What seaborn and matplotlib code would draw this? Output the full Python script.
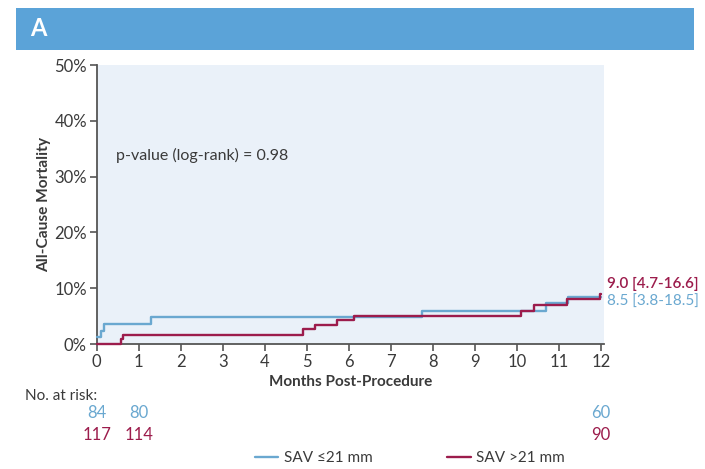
import matplotlib
matplotlib.use("Agg")
import matplotlib.pyplot as plt
from matplotlib.patches import Rectangle
from matplotlib.lines import Line2D
from matplotlib.transforms import blended_transform_factory
import numpy as np
import pandas as pd
import seaborn as sns

# Kaplan-Meier cumulative mortality (%) by annulus size group
small_label = "SAV ≤21 mm"
large_label = "SAV >21 mm"
small_months = [0, 0.11, 0.17, 1.29, 7.73, 10.7, 11.22, 12.0]
small_mortality = [1.2, 2.4, 3.6, 4.8, 6.0, 7.3, 8.5, 8.5]
large_months = [0, 0.59, 0.63, 4.91, 5.19, 5.71, 6.12, 10.1, 10.4, 11.2, 11.97, 12.0]
large_mortality = [0, 0.9, 1.7, 2.6, 3.4, 4.3, 5.1, 6.0, 7.0, 8.0, 9.0, 9.0]

small_estimate = "8.5 [3.8-18.5]"
large_estimate = "9.0 [4.7-16.6]"
p_text = "p-value (log-rank) = 0.98"

risk_months = [0, 1, 12]
small_at_risk = [84, 80, 60]
large_at_risk = [117, 114, 90]

x_ticks = list(range(0, 13))
y_ticks = [0, 10, 20, 30, 40, 50]

BLUE = "#6aa8d0"
RED = "#9c1c4c"
TEXT = "#3a3a3a"

sns.set_style("ticks")
plt.rcParams["font.family"] = ["Lato", "DejaVu Sans"]

df = pd.concat([
    pd.DataFrame({"month": small_months, "mortality": small_mortality, "group": small_label}),
    pd.DataFrame({"month": large_months, "mortality": large_mortality, "group": large_label}),
])

fig = plt.figure(figsize=(7.05, 4.69), dpi=100)
ax = fig.add_axes([96.7 / 705, (469 - 344) / 469, (604 - 96.7) / 705, (344 - 65) / 469])
ax.set_facecolor("#eaf1f9")

sns.lineplot(data=df, x="month", y="mortality", hue="group",
             palette={small_label: BLUE, large_label: RED},
             hue_order=[small_label, large_label],
             drawstyle="steps-post", linewidth=1.7, ax=ax, legend=False,
             estimator=None, sort=False)
for line in ax.lines:
    line.set_zorder(3)
    line.set_clip_on(False)

ax.set_xlim(0, 12.07)
ax.set_ylim(0, 50)
ax.set_xticks(x_ticks)
ax.set_yticks(y_ticks)
ax.set_yticklabels([f"{v}%" for v in y_ticks])
ax.tick_params(axis="both", labelsize=12, colors="#555555", labelcolor=TEXT,
               length=5, width=1.2, pad=2)
for side in ("top", "right"):
    ax.spines[side].set_visible(False)
for side in ("left", "bottom"):
    ax.spines[side].set_color("#555555")
    ax.spines[side].set_linewidth(1.3)
    ax.spines[side].set_zorder(2)

ax.set_xlabel("Months Post-Procedure", fontsize=11, fontweight="bold", color=TEXT, labelpad=4)
ax.set_ylabel("All-Cause Mortality", fontsize=11.2, fontweight="bold", color=TEXT, labelpad=2)

ax.text(0.45, 33.8, p_text, fontsize=11.5, color=TEXT, va="center", ha="left")

# Estimates at 12 months beside the curves
ax.text(12.15, 10.75, large_estimate, fontsize=11, color=RED, va="center", ha="left",
        fontweight="semibold", clip_on=False)
ax.text(12.15, 7.5, small_estimate, fontsize=11, color=BLUE, va="center", ha="left",
        clip_on=False)

# Header band
fig.patches.append(Rectangle((16 / 705, (469 - 50) / 469), 678 / 705, 42 / 469,
                             transform=fig.transFigure, facecolor="#5ba3d8",
                             edgecolor="none", zorder=0))
fig.text(30 / 705, (469 - 29) / 469, "A", color="white", fontsize=17,
         fontweight="bold", va="center", ha="left")

# Number at risk table
trans = blended_transform_factory(ax.transData, fig.transFigure)
fig.text(25 / 705, (469 - 396) / 469, "No. at risk:", fontsize=11, color=TEXT,
         va="center", ha="left")
for m, n in zip(risk_months, small_at_risk):
    ax.text(m, (469 - 413) / 469, str(n), transform=trans, fontsize=12,
            color=BLUE, ha="center", va="center", clip_on=False)
for m, n in zip(risk_months, large_at_risk):
    ax.text(m, (469 - 435) / 469, str(n), transform=trans, fontsize=12,
            color=RED, ha="center", va="center", clip_on=False)

handles = [Line2D([], [], color=BLUE, linewidth=1.7),
           Line2D([], [], color=RED, linewidth=1.7)]
fig.legend(handles, [small_label, large_label], ncol=2, frameon=False,
           loc="center", bbox_to_anchor=(410 / 705, (469 - 458) / 469),
           fontsize=11, handlelength=1.55, handletextpad=0.35, columnspacing=4.9,
           labelcolor=TEXT)

fig.savefig("out.png", dpi=100, facecolor="white")
